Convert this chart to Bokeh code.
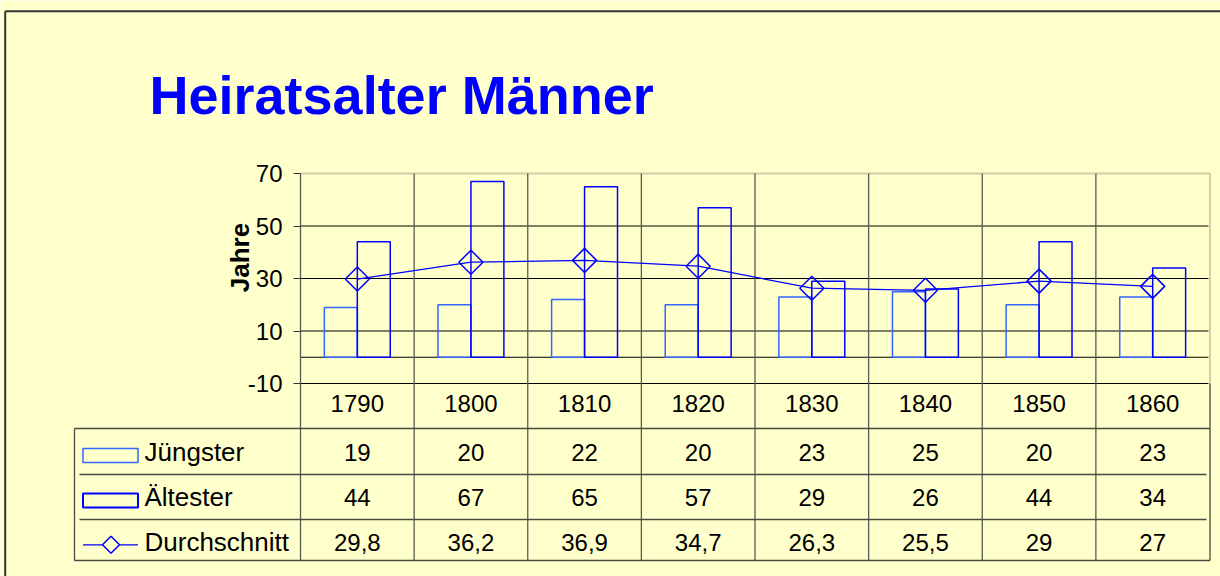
import math
from bokeh.plotting import figure
from bokeh.models import ColumnDataSource, FixedTicker
from bokeh.embed import file_html
from bokeh.resources import INLINE
from bokeh.core.properties import value
from bokeh.transform import dodge

# ---------------- data ----------------
years = ["1790", "1800", "1810", "1820", "1830", "1840", "1850", "1860"]
juengster = [19, 20, 22, 20, 23, 25, 20, 23]
aeltester = [44, 67, 65, 57, 29, 26, 44, 34]
durchschnitt = [29.8, 36.2, 36.9, 34.7, 26.3, 25.5, 29, 27]
series = ["Jüngster", "Ältester", "Durchschnitt"]
y_ticks = [-10, 10, 30, 50, 70]
title_text = "Heiratsalter Männer"
y_label = "Jahre"

# ---------------- geometry (page pixels -> data) ----------------
W, H = 1220, 576
OX, OY = 0, 0
X0, CW = 300.0, 113.625      # page x of first category edge, category width
Y70, PPU = 173.0, 2.625      # page y of value 70, pixels per unit


def px2x(px):
    return (px - X0) / CW


def px2y(py):
    return 70 - (py - Y70) / PPU


n = len(years)
FONT = "Liberation Sans"
BG = "#FFFFCC"
BLUE = "#0000FF"
LBLUE = "#3366FF"
TABLE = "#4a4a40"
SEP = "#5a5a55"
LIGHT = "#D2CEA6"

p = figure(width=W, height=H,
           x_range=(px2x(OX), px2x(OX + W)),
           y_range=(px2y(OY + H), px2y(OY)),
           output_backend="svg", toolbar_location=None, min_border=0)
p.title.visible = False
p.background_fill_color = BG
p.border_fill_color = BG
p.outline_line_color = None
p.xgrid.visible = False
p.ygrid.visible = False

# y axis placed at the first category edge
ya = p.yaxis[0]
ya.fixed_location = 0
ya.bounds = (min(y_ticks), max(y_ticks))
ya.ticker = FixedTicker(ticks=y_ticks)
ya.major_label_overrides = {t: str(t) for t in y_ticks}
ya.axis_line_color = None
ya.major_tick_in = 0
ya.major_tick_out = 7
ya.major_tick_line_color = "#333333"
ya.minor_tick_line_color = None
ya.major_label_standoff = 11
ya.major_label_text_font = FONT
ya.major_label_text_font_size = "24px"
ya.major_label_text_color = "black"

# x axis (year row of the data table)
centers = [i + 0.5 for i in range(n)]
xa = p.xaxis[0]
xa.fixed_location = -10
xa.ticker = FixedTicker(ticks=centers)
xa.major_label_overrides = {c: y for c, y in zip(centers, years)}
xa.axis_line_color = None
xa.major_tick_in = 0
xa.major_tick_out = 0
xa.minor_tick_line_color = None
xa.major_label_standoff = 11
xa.major_label_text_font = FONT
xa.major_label_text_font_size = "24px"
xa.major_label_text_color = "black"

# ---------------- frame / table lines ----------------
row_px = [383, 428, 474, 519, 560]
row_y = [px2y(v) for v in row_px]
x_right = px2x(1209.5)

# outer chart border
p.segment(x0=[px2x(4.7), px2x(4.7)], y0=[px2y(10.7), px2y(10.7)],
          x1=[px2x(OX + W), px2x(4.7)], y1=[px2y(10.7), px2y(OY + H)],
          line_color="#333333", line_width=2)

# horizontal gridlines
grid_src = ColumnDataSource(dict(y=[t for t in y_ticks if t != max(y_ticks)] + [0]))
p.segment(x0=0, x1=px2x(1208), y0="y", y1="y", source=grid_src,
          line_color="black", line_width=1)
p.segment(x0=[0], x1=[x_right], y0=[max(y_ticks)], y1=[max(y_ticks)],
          line_color=LIGHT, line_width=2)
p.segment(x0=[x_right], x1=[x_right], y0=[max(y_ticks)], y1=[min(y_ticks)],
          line_color=LIGHT, line_width=2)

# category separators (through plot and table)
p.segment(x0=list(range(n)), x1=list(range(n)),
          y0=[max(y_ticks)] * n, y1=[row_y[-1]] * n,
          line_color=SEP, line_width=1.3)
p.segment(x0=[x_right], x1=[x_right], y0=[min(y_ticks)], y1=[row_y[-1]],
          line_color=TABLE, line_width=1.3)

# table horizontal lines
p.segment(x0=[px2x(74), px2x(74)], x1=[x_right, x_right],
          y0=[row_y[1], row_y[4]], y1=[row_y[1], row_y[4]],
          line_color=TABLE, line_width=1.3)
p.segment(x0=[px2x(79), px2x(79)], x1=[px2x(1206), px2x(1206)],
          y0=[row_y[2], row_y[3]], y1=[row_y[2], row_y[3]],
          line_color=TABLE, line_width=1.3)
p.segment(x0=[px2x(74)], x1=[px2x(74)], y0=[row_y[1]], y1=[row_y[4]],
          line_color=TABLE, line_width=1.3)

# ---------------- bars, line, markers ----------------
src = ColumnDataSource(dict(x=centers, jung=juengster, alt=aeltester, avg=durchschnitt))
p.vbar(x=dodge("x", -0.145), width=0.29, top="jung", bottom=0, source=src,
       fill_color=None, line_color=LBLUE, line_width=1.5)
p.vbar(x=dodge("x", 0.145), width=0.29, top="alt", bottom=0, source=src,
       fill_color=None, line_color=BLUE, line_width=1.5)
p.line(x="x", y="avg", source=src, line_color=BLUE, line_width=1.3)
p.scatter(x="x", y="avg", source=src, marker="square", angle=math.pi / 4, size=17,
          fill_color=None, line_color=BLUE, line_width=1.5)

# ---------------- data table values ----------------
def fmt(v):
    return f"{v:g}".replace(".", ",")


row_mid = [px2y(451.5), px2y(496.5), px2y(541.5)]
for vals, ym in zip([juengster, aeltester, durchschnitt], row_mid):
    p.text(x=centers, y=[ym] * n, text=[fmt(v) for v in vals],
           text_align="center", text_baseline="middle",
           text_font=value(FONT), text_font_size="24px", text_color="black")

# legend column
p.text(x=[px2x(144)] * 3, y=row_mid, text=series,
       text_align="left", text_baseline="middle",
       text_font=value(FONT), text_font_size="26px", text_color="black")
p.quad(left=[px2x(82.5)], right=[px2x(137.5)], top=[px2y(448)], bottom=[px2y(462)],
       fill_color=None, line_color=LBLUE, line_width=1.5)
p.quad(left=[px2x(82.5)], right=[px2x(137.5)], top=[px2y(493)], bottom=[px2y(507)],
       fill_color=None, line_color=BLUE, line_width=2)
p.segment(x0=[px2x(82.5)], x1=[px2x(137.5)], y0=[px2y(544.3)], y1=[px2y(544.3)],
          line_color=BLUE, line_width=1.3)
p.scatter(x=[px2x(110.5)], y=[px2y(544.3)], marker="square", angle=math.pi / 4, size=12,
          fill_color=BG, line_color=BLUE, line_width=1.5)

# ---------------- title and axis label ----------------
p.text(x=[px2x(149)], y=[px2y(94)], text=[title_text],
       text_align="left", text_baseline="middle",
       text_font=value(FONT), text_font_style="bold", text_font_size="54px",
       text_color=BLUE)
p.text(x=[px2x(239.7)], y=[px2y(257)], text=[y_label], angle=math.pi / 2,
       text_align="center", text_baseline="middle",
       text_font=value(FONT), text_font_style="bold", text_font_size="26px",
       text_color="black")

open("out.html", "w").write(file_html(p, INLINE))
